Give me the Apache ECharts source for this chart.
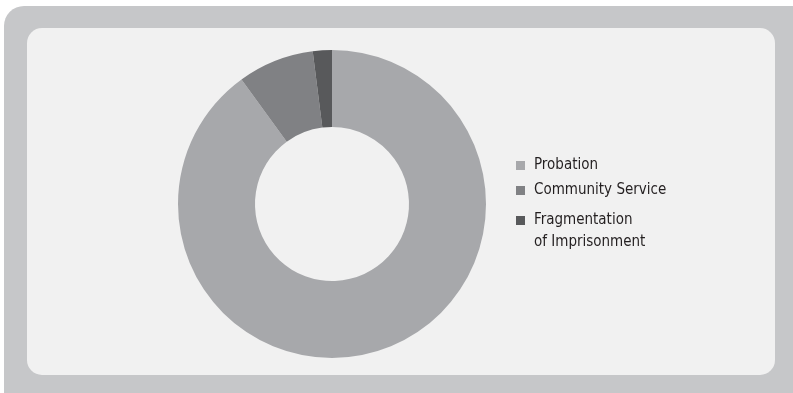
<!DOCTYPE html>
<html>
<head>
<meta charset="utf-8">
<style>
  html, body { margin: 0; padding: 0; background: #ffffff; }
  #chart { width: 793px; height: 393px; }
</style>
<script src="https://cdn.jsdelivr.net/npm/echarts@6/dist/echarts.min.js"></script>
</head>
<body>
<div id="chart"></div>
<script>
// Sentence types and their shares (percent)
const categories = ['Probation', 'Community Service', 'Fragmentation of Imprisonment'];
const shares = [90, 8, 2];
const sliceColors = ['#a7a8ab', '#808184', '#58595b'];

const FONT = "'DejaVu Sans Condensed', 'Liberation Sans Narrow', sans-serif";
const TEXT_COLOR = '#231f20';
const FONT_SIZE = 15;

const chart = echarts.init(document.getElementById('chart'), null, { renderer: 'canvas' });

// one legend per entry so each row can sit at its own height
const legendTops = [158, 183, 213];
const legends = categories.map((name, i) => ({
  data: [name],
  orient: 'vertical',
  left: 516,
  top: legendTops[i],
  padding: 0,
  itemWidth: 9,
  itemHeight: 9,
  itemGap: 0,
  icon: 'rect',
  selectedMode: false,
  formatter: n => n === 'Fragmentation of Imprisonment' ? 'Fragmentation' : n,
  textStyle: { fontFamily: FONT, fontSize: FONT_SIZE, color: TEXT_COLOR, padding: [0, 0, 0, 4] }
}));

chart.setOption({
  animation: false,
  backgroundColor: '#ffffff',
  graphic: [
    { type: 'rect', z: -10, shape: { x: 4, y: 6, width: 820, height: 420, r: 20 }, style: { fill: '#c6c7c9' } },
    { type: 'rect', z: -9, shape: { x: 27, y: 28, width: 748, height: 347, r: 15 }, style: { fill: '#f1f1f1' } },
    { type: 'text', left: 534, top: 235, style: { text: 'of Imprisonment', fontFamily: FONT, fontSize: FONT_SIZE, fill: TEXT_COLOR } }
  ],
  legend: legends,
  series: [{
    type: 'pie',
    center: [332, 204],
    radius: [77, 154],
    startAngle: 90,
    clockwise: true,
    label: { show: false },
    labelLine: { show: false },
    emphasis: { disabled: true },
    itemStyle: { borderWidth: 0 },
    data: categories.map((name, i) => ({ name, value: shares[i], itemStyle: { color: sliceColors[i] } }))
  }]
});
</script>
</body>
</html>
